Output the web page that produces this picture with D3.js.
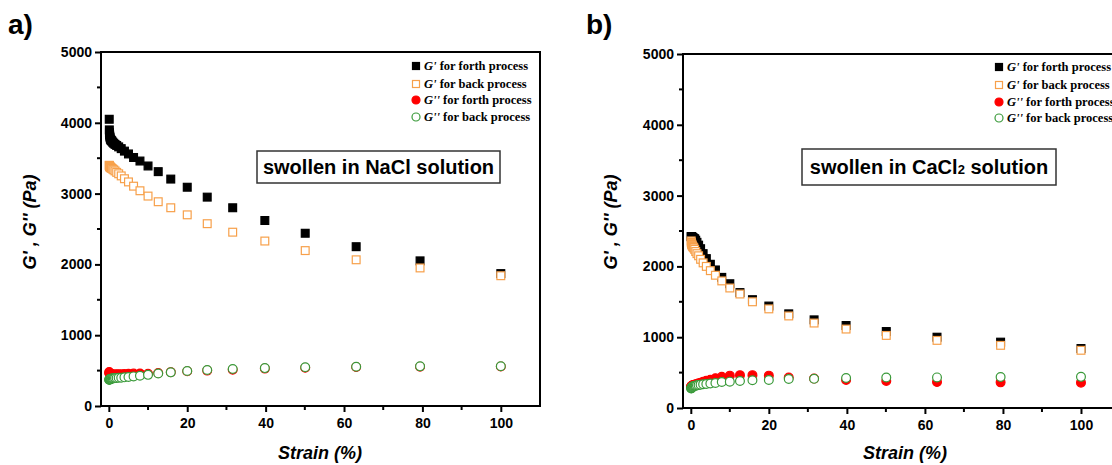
<!DOCTYPE html>
<html><head><meta charset="utf-8">
<script src="https://cdn.jsdelivr.net/npm/d3@7"></script>
<style>html,body{margin:0;padding:0;background:#fff;}svg{display:block;}</style>
</head><body>
<svg id="chart" width="1112" height="465"></svg>
<script>
const strain = [0.1,0.126,0.158,0.2,0.251,0.316,0.398,0.501,0.631,0.794,1,1.26,1.58,2,2.51,3.16,3.98,5.01,6.31,7.94,10,12.6,15.8,20,25.1,31.6,39.8,50.1,63.1,79.4,100];
const xTicks = [0,20,40,60,80,100];
const yTicks = [0,1000,2000,3000,4000,5000];
const seriesNames = ["G' for forth process","G' for back process","G'' for forth process","G'' for back process"];

const naclGpForth = [4050,3900,3860,3830,3810,3790,3770,3760,3750,3740,3725,3710,3695,3680,3660,3635,3600,3560,3510,3460,3390,3310,3205,3090,2950,2800,2620,2440,2250,2050,1870];
const naclGpBack  = [3400,3395,3390,3385,3380,3375,3370,3365,3360,3355,3345,3335,3320,3300,3280,3250,3210,3165,3105,3040,2965,2885,2800,2700,2575,2455,2330,2195,2065,1950,1840];
const naclGppForth= [480,470,462,458,455,452,450,448,447,446,445,445,446,447,448,450,452,455,458,460,455,465,478,490,500,512,528,540,550,555,558];
const naclGppBack = [370,372,374,376,378,380,382,384,386,388,390,392,394,396,398,400,405,410,418,428,440,460,475,494,508,523,535,548,555,560,562];

const caclGpForth = [2420,2420,2420,2420,2415,2410,2410,2405,2400,2395,2390,2370,2340,2300,2250,2180,2110,2030,1950,1845,1755,1630,1530,1440,1330,1245,1165,1080,1000,930,840];
const caclGpBack  = [2360,2340,2330,2320,2310,2300,2290,2280,2270,2260,2240,2210,2180,2150,2100,2050,2000,1940,1875,1795,1695,1610,1500,1400,1300,1200,1115,1025,955,885,815];
const caclGppForth= [300,305,308,310,312,315,318,320,323,326,330,335,340,348,355,370,385,400,420,440,457,464,464,457,432,415,396,382,367,362,358];
const caclGppBack = [275,280,284,288,292,296,300,303,306,310,313,316,320,325,330,335,340,345,354,367,372,382,391,396,410,412,424,430,432,438,440];

const svg = d3.select("#chart");
const styles = [
  {shape:"square", fill:"#000", stroke:"#000"},
  {shape:"square", fill:"#fff", stroke:"#f7a04a"},
  {shape:"circle", fill:"#ff0000", stroke:"#ff0000"},
  {shape:"circle", fill:"#fff", stroke:"#3a9a3a"}
];

function drawPanel(cfg){
  const g = svg.append("g");
  const x = d3.scaleLinear().domain([-2,110]).range([cfg.left, cfg.right]);
  const y = d3.scaleLinear().domain([0,5000]).range([cfg.bottom, cfg.top]);

  g.append("text").attr("x", cfg.labelX).attr("y", 34)
    .attr("font-family","Arial, 'Liberation Sans', sans-serif").attr("font-weight","bold")
    .attr("font-size", 28).text(cfg.label);

  const minorX = d3.range(10,110,20);
  const minorY = d3.range(500,5000,1000);
  g.append("g").selectAll("line").data(minorX).join("line")
    .attr("x1", d=>x(d)).attr("x2", d=>x(d)).attr("y1", cfg.bottom).attr("y2", cfg.bottom+4)
    .attr("stroke","#000").attr("stroke-width",2);
  g.append("g").selectAll("line").data(minorY).join("line")
    .attr("y1", d=>y(d)).attr("y2", d=>y(d)).attr("x1", cfg.left).attr("x2", cfg.left-4)
    .attr("stroke","#000").attr("stroke-width",2);

  const xAxis = g.append("g").attr("transform",`translate(0,${cfg.bottom})`)
    .call(d3.axisBottom(x).tickValues(xTicks).tickSize(6).tickPadding(6).tickFormat(d3.format("d")));
  const yAxis = g.append("g").attr("transform",`translate(${cfg.left},0)`)
    .call(d3.axisLeft(y).tickValues(yTicks).tickSize(6).tickPadding(3).tickFormat(d3.format("d")));
  [xAxis,yAxis].forEach(a=>{
    a.select(".domain").remove();
    a.selectAll(".tick line").attr("stroke","#000").attr("stroke-width",2);
    a.selectAll(".tick text").attr("font-family","Arial, 'Liberation Sans', sans-serif")
      .attr("font-weight","bold").attr("font-size",14).attr("fill","#000");
  });

  g.append("rect").attr("x",cfg.left).attr("y",cfg.top)
    .attr("width",cfg.right-cfg.left).attr("height",cfg.bottom-cfg.top)
    .attr("fill","none").attr("stroke","#000").attr("stroke-width",2);

  g.append("text").attr("x",cfg.xTitleX).attr("y",459)
    .attr("text-anchor","middle").attr("font-family","Arial, 'Liberation Sans', sans-serif")
    .attr("font-weight","bold").attr("font-style","italic").attr("font-size",18).text("Strain (%)");
  g.append("text").attr("transform",`translate(${cfg.yTitleX},${cfg.yTitleY}) rotate(-90)`)
    .attr("text-anchor","middle").attr("font-family","Arial, 'Liberation Sans', sans-serif")
    .attr("font-weight","bold").attr("font-style","italic").attr("font-size",18).text("G' , G'' (Pa)");

  const bx = g.append("g");
  bx.append("rect").attr("x",cfg.box[0]).attr("y",cfg.box[1]).attr("width",cfg.box[2]).attr("height",cfg.box[3])
    .attr("fill","#fff").attr("stroke","#333").attr("stroke-width",1.5);
  const t = bx.append("text").attr("x",cfg.box[0]+cfg.box[2]/2).attr("y",cfg.box[1]+cfg.box[3]/2+7)
    .attr("text-anchor","middle").attr("font-family","Arial, 'Liberation Sans', sans-serif")
    .attr("font-weight","bold").attr("font-size",20);
  cfg.boxText.forEach(p=>{
    const ts = t.append("tspan").text(p.t);
    if(p.sub) ts.attr("font-size",13);
  });

  const clip = "clip"+cfg.label.replace(")","");
  svg.append("clipPath").attr("id",clip).append("rect")
    .attr("x",cfg.left).attr("y",cfg.top).attr("width",cfg.right-cfg.left).attr("height",cfg.bottom-cfg.top);
  const dg = g.append("g").attr("clip-path",`url(#${clip})`);
  cfg.series.forEach((vals,i)=>{
    const st = styles[i];
    const pts = strain.map((s,j)=>({x:s,y:vals[j]}));
    if(st.shape==="square"){
      dg.append("g").selectAll("rect").data(pts).join("rect")
        .attr("x",d=>x(d.x)-3.9).attr("y",d=>y(d.y)-3.9).attr("width",7.8).attr("height",7.8)
        .attr("fill",st.fill).attr("stroke",st.stroke).attr("stroke-width",1.2);
    } else {
      dg.append("g").selectAll("circle").data(pts).join("circle")
        .attr("cx",d=>x(d.x)).attr("cy",d=>y(d.y)).attr("r",4.4)
        .attr("fill",st.fill).attr("stroke",st.stroke).attr("stroke-width",1.2);
    }
  });

  const lg = g.append("g");
  seriesNames.forEach((name,i)=>{
    const st = styles[i];
    const yy = cfg.legY[i];
    if(st.shape==="square"){
      lg.append("rect").attr("x",cfg.legX-3.5).attr("y",yy-3.5).attr("width",7).attr("height",7)
        .attr("fill",st.fill).attr("stroke",st.stroke).attr("stroke-width",1.2);
    } else {
      lg.append("circle").attr("cx",cfg.legX).attr("cy",yy).attr("r",4)
        .attr("fill",st.fill).attr("stroke",st.stroke).attr("stroke-width",1.2);
    }
    const parts = name.split(" for ");
    const tx = lg.append("text").attr("x",cfg.legX+8).attr("y",yy+4)
      .attr("font-family","'Liberation Serif','Times New Roman',serif").attr("font-weight","bold")
      .attr("font-size",12.5).attr("fill","#000");
    tx.append("tspan").attr("font-style","italic").text(parts[0]);
    tx.append("tspan").text(" for " + parts[1]);
  });
}

drawPanel({
  label:"a)", labelX:8, left:101, right:540, top:52, bottom:406, xTitleX:320,
  yTitleX:36, yTitleY:222, box:[257,151,243,32],
  boxText:[{t:"swollen in NaCl solution"}],
  series:[naclGpForth,naclGpBack,naclGppForth,naclGppBack],
  legX:416, legY:[66,84,100,117]
});
drawPanel({
  label:"b)", labelX:586, left:683, right:1120, top:54, bottom:408, xTitleX:905,
  yTitleX:617, yTitleY:222, box:[802,149,254,36],
  boxText:[{t:"swollen in CaCl"},{t:"2",sub:true},{t:" solution"}],
  series:[caclGpForth,caclGpBack,caclGppForth,caclGppBack],
  legX:999, legY:[67,85,102,118]
});
</script>
</body></html>
